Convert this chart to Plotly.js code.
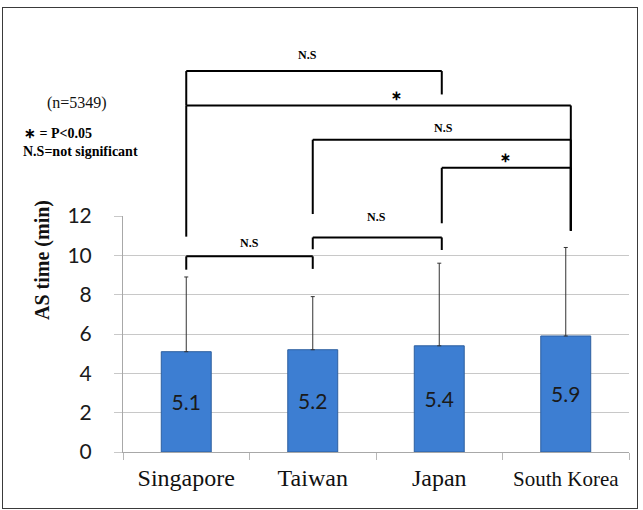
<!DOCTYPE html>
<html>
<head>
<meta charset="utf-8">
<script src="https://cdn.plot.ly/plotly-3.0.1.min.js"></script>
<style>
  html, body { margin: 0; padding: 0; background: #fff; }
  #wrap { position: relative; width: 643px; height: 510px; }
  #chart { width: 643px; height: 510px; }
  #frame { position: absolute; left: 2px; top: 7px; width: 634px; height: 500px;
           border: 1px solid #3a3a3a; pointer-events: none; }
</style>
</head>
<body>
<div id="wrap">
  <div id="chart"></div>
  <div id="frame"></div>
</div>
<script>
// ---- data ----
const categories = ['Singapore', 'Taiwan', 'Japan', 'South Korea'];
const tickLabels = ['Singapore', 'Taiwan', 'Japan', '<span style="font-size:21px">South Korea</span>'];
const meanTime = [5.1, 5.2, 5.4, 5.9];
const sdUpper = [3.8, 2.7, 4.2, 4.5];
const yTicks = [0, 2, 4, 6, 8, 10, 12];

// significance brackets: leg positions (category index units), bracket level and leg ends in axis units
const bracketFrom   = [0, 0, 1, 2.02, 0, 1];
const bracketTo     = [2.02, 3.04, 3.04, 3.04, 1, 2.02];
const bracketTop    = [19.37, 17.62, 15.88, 14.45, 9.95, 10.91];
const bracketLeftEnd  = [17.62, 10.95, 12.10, 11.63, 9.27, 10.31];
const bracketRightEnd = [18.18, 11.25, 11.25, 11.25, 9.31, 10.27];
const bracketLabel  = ['N.S', '\u2217', 'N.S', '\u2217', 'N.S', 'N.S'];
const labelLevel    = [20.18, 18.11, 16.49, 14.98, 10.64, 11.97];
const labelPos      = [0.96, 1.66, 2.03, 2.52, 0.5, 1.5];

const yMax = 12;
const L = 123, R = 14, T = 216, B = 58, W = 643, H = 510;
const plotW = W - L - R, plotH = H - T - B;
const pxX = p => (p - L) / plotW;
const pxY = p => (T + plotH - p) / plotH;

const shapes = [];
const annotations = [];
const lineStyle = { color: '#000', width: 2 };
for (let i = 0; i < bracketFrom.length; i++) {
  const x0 = bracketFrom[i], x1 = bracketTo[i], top = bracketTop[i] / yMax;
  shapes.push({ type: 'line', xref: 'x', yref: 'paper', x0: x0, x1: x0, y0: bracketLeftEnd[i] / yMax, y1: top, line: lineStyle });
  shapes.push({ type: 'line', xref: 'x', yref: 'paper', x0: x0, x1: x1, y0: top, y1: top, line: lineStyle });
  shapes.push({ type: 'line', xref: 'x', yref: 'paper', x0: x1, x1: x1, y0: top, y1: bracketRightEnd[i] / yMax, line: lineStyle });
  const isStar = bracketLabel[i] !== 'N.S';
  annotations.push({
    xref: 'x', yref: 'paper', x: labelPos[i], y: labelLevel[i] / yMax,
    text: '<b>' + bracketLabel[i] + '</b>', showarrow: false,
    font: { family: 'Liberation Serif, Times New Roman, serif', size: isStar ? 13 : 12, color: '#000' },
    xanchor: 'center', yanchor: 'middle'
  });
}

annotations.push({
  xref: 'paper', yref: 'paper', x: pxX(77), y: pxY(103), text: '(n=5349)', showarrow: false,
  font: { family: 'Liberation Serif, Times New Roman, serif', size: 16, color: '#111' },
  xanchor: 'center', yanchor: 'middle'
});
annotations.push({
  xref: 'paper', yref: 'paper', x: pxX(22), y: pxY(133), text: '<b>\u2217 = P&lt;0.05</b>', showarrow: false,
  font: { family: 'Liberation Serif, Times New Roman, serif', size: 14, color: '#000' },
  xanchor: 'left', yanchor: 'middle'
});
annotations.push({
  xref: 'paper', yref: 'paper', x: pxX(21), y: pxY(151), text: '<b>N.S=not significant</b>', showarrow: false,
  font: { family: 'Liberation Serif, Times New Roman, serif', size: 14, color: '#000' },
  xanchor: 'left', yanchor: 'middle'
});
annotations.push({
  xref: 'paper', yref: 'paper', x: pxX(42), y: pxY(260), text: '<b>AS time (min)</b>', showarrow: false,
  textangle: -90,
  font: { family: 'Liberation Serif, Times New Roman, serif', size: 20, color: '#111' },
  xanchor: 'center', yanchor: 'middle'
});

const trace = {
  type: 'bar',
  x: categories,
  y: meanTime,
  width: 0.395,
  marker: { color: '#3d7ed2', line: { color: '#2d5f9f', width: 1 } },
  text: meanTime.map(v => v.toFixed(1)),
  textposition: 'inside',
  insidetextanchor: 'middle',
  textangle: 0,
  constraintext: 'none',
  textfont: { family: 'Lato, Open Sans, sans-serif', size: 21, color: '#1a1a1a' },
  error_y: {
    type: 'data', symmetric: false, array: sdUpper, arrayminus: sdUpper.map(() => 0),
    color: '#333', thickness: 1, width: 2
  },
  hoverinfo: 'none'
};

const layout = {
  width: W, height: H,
  margin: { l: L, r: R, t: T, b: B, pad: 0 },
  paper_bgcolor: '#fff', plot_bgcolor: '#fff',
  showlegend: false,
  xaxis: {
    type: 'category',
    categoryorder: 'array', categoryarray: categories,
    tickmode: 'array', tickvals: categories, ticktext: tickLabels,
    range: [-0.5, 3.5],
    tickson: 'boundaries', ticks: 'outside', ticklen: 7, tickcolor: '#b8b8b8', tickwidth: 1,
    showline: true, linecolor: '#a8a8a8', linewidth: 1,
    showgrid: false, zeroline: false,
    tickfont: { family: 'Liberation Serif, Times New Roman, serif', size: 24, color: '#111' },
    ticklabelstandoff: 4
  },
  yaxis: {
    range: [0, yMax],
    tickmode: 'array', tickvals: yTicks,
    ticks: 'outside', ticklen: 8, tickcolor: '#c8c8c8', tickwidth: 1,
    showline: true, linecolor: '#a8a8a8', linewidth: 1,
    showgrid: true, gridcolor: '#c8c8c8', gridwidth: 1,
    zeroline: false,
    tickfont: { family: 'Lato, Open Sans, sans-serif', size: 21, color: '#1a1a1a' },
    ticklabelstandoff: 18
  },
  shapes: shapes,
  annotations: annotations
};

Plotly.newPlot('chart', [trace], layout, { staticPlot: true, displayModeBar: false });
</script>
</body>
</html>
